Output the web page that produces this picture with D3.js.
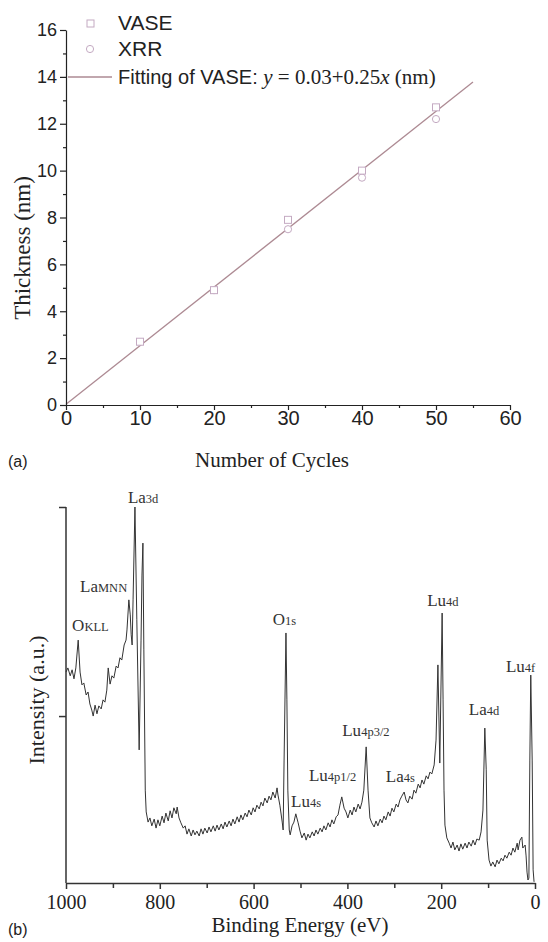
<!DOCTYPE html>
<html>
<head>
<meta charset="utf-8">
<script src="https://cdn.jsdelivr.net/npm/d3@7"></script>
<style>
  body { margin: 0; background: #fff; }
  svg { display: block; }
</style>
</head>
<body>
<div class="chart"></div>
<script>
// ---- panel (a): film thickness vs ALD cycles ----
const vaseCycles = [10, 20, 30, 40, 50];
const vaseThickness = [2.7, 4.9, 7.9, 10.0, 12.7];
const xrrCycles = [20, 30, 40, 50];
const xrrThickness = [4.9, 7.5, 9.7, 12.2];
const fitIntercept = 0.03;
const fitSlope = 0.25;
const fitRange = [0, 55];
const cycleTicks = [0, 10, 20, 30, 40, 50, 60];
const thicknessTicks = [0, 2, 4, 6, 8, 10, 12, 14, 16];

// ---- panel (b): XPS survey spectrum ----
const bindingEnergy = [
  1000, 996, 991, 987, 983, 979, 974, 970, 966, 962,
  957, 953, 949, 945, 942, 938, 934, 930, 925, 921,
  917, 913, 910, 906, 902, 898, 893, 889, 885, 881,
  876, 872, 870, 866, 863, 861, 859, 857, 853, 849,
  844, 840, 838, 836, 834, 831, 829, 825, 821, 817,
  812, 808, 804, 800, 795, 791, 787, 782, 778, 774,
  770, 765, 763, 759, 755, 750, 746, 742, 738, 733,
  729, 725, 721, 716, 712, 708, 704, 699, 695, 691,
  686, 682, 678, 674, 669, 665, 661, 657, 652, 648,
  644, 640, 635, 631, 627, 623, 618, 614, 610, 605,
  601, 597, 593, 588, 584, 580, 576, 571, 567, 563,
  559, 554, 550, 548, 544, 539, 537, 535, 531, 529,
  527, 524, 522, 518, 514, 510, 505, 501, 497, 492,
  488, 484, 480, 475, 471, 467, 463, 458, 454, 450,
  446, 441, 437, 433, 429, 424, 420, 416, 412, 407,
  403, 399, 394, 390, 386, 382, 377, 373, 369, 365,
  360, 356, 352, 348, 343, 339, 335, 330, 326, 322,
  318, 313, 309, 305, 301, 296, 292, 288, 284, 279,
  275, 271, 267, 262, 258, 254, 249, 245, 241, 237,
  232, 228, 224, 220, 215, 211, 207, 203, 198, 196,
  194, 192, 188, 183, 179, 175, 171, 166, 162, 158,
  154, 149, 145, 141, 136, 132, 128, 124, 119, 115,
  111, 107, 104, 102, 98, 94, 90, 85, 81, 77,
  72, 68, 64, 60, 55, 51, 47, 43, 38, 36,
  32, 28, 26, 21, 19, 17, 15, 13, 11, 9,
  6, 4, 2
];
const intensity = [
  56.1, 57.2, 55.1, 56.7, 54.3, 57.2, 64.6, 56.1, 52.7, 53.2,
  50.0, 50.8, 47.6, 46.0, 44.4, 47.3, 45.0, 47.1, 46.3, 48.7,
  48.1, 51.3, 57.2, 52.9, 55.1, 54.5, 57.7, 57.2, 59.9, 59.3,
  63.3, 64.6, 67.3, 75.3, 71.3, 66.0, 63.3, 75.3, 100, 70.0,
  35.4, 64.6, 81.9, 90.4, 62.0, 24.7, 18.9, 16.2, 17.3, 15.2,
  17.0, 14.6, 16.8, 15.2, 17.8, 16.0, 18.6, 16.5, 19.2, 17.3,
  20.0, 18.4, 20.2, 17.3, 16.0, 14.6, 15.2, 13.0, 14.4, 12.5,
  14.1, 12.8, 13.8, 12.5, 14.4, 13.0, 14.6, 13.3, 14.9, 13.6,
  15.2, 13.8, 15.4, 14.1, 15.7, 14.4, 16.2, 14.9, 16.5, 15.2,
  17.0, 15.7, 17.6, 16.2, 18.1, 16.8, 18.6, 17.6, 19.4, 18.1,
  20.0, 18.9, 20.7, 19.7, 21.5, 20.5, 22.6, 21.3, 23.1, 22.1,
  24.2, 22.6, 25.3, 23.4, 20.7, 16.2, 14.1, 32.7, 66.5, 48.7,
  24.7, 14.1, 12.8, 15.2, 16.2, 18.4, 16.0, 13.8, 12.0, 13.3,
  11.4, 13.0, 12.0, 13.6, 12.5, 14.1, 13.0, 14.6, 13.6, 15.2,
  14.1, 16.0, 14.9, 16.8, 15.7, 17.6, 18.1, 20.7, 22.9, 19.9,
  18.9, 17.3, 19.4, 18.1, 20.2, 18.9, 21.0, 19.7, 21.5, 24.7,
  36.2, 24.7, 17.3, 16.0, 14.9, 16.5, 15.2, 17.0, 16.0, 17.8,
  16.8, 18.9, 17.8, 19.9, 18.9, 21.0, 20.2, 22.1, 23.1, 24.2,
  22.1, 21.3, 23.1, 22.3, 24.7, 23.9, 26.3, 25.3, 27.4, 26.3,
  28.5, 27.7, 29.5, 29.0, 31.4, 38.0, 58.0, 31.9, 71.8, 48.7,
  24.7, 15.4, 12.0, 10.6, 9.3, 10.9, 8.8, 10.1, 8.5, 10.4,
  9.0, 10.6, 9.3, 10.9, 9.8, 11.4, 10.1, 11.7, 11.4, 13.6,
  19.4, 41.2, 30.1, 11.4, 6.1, 4.5, 5.6, 4.3, 6.1, 5.1,
  6.6, 5.9, 7.4, 6.6, 8.2, 7.4, 9.3, 8.2, 10.6, 8.8,
  11.4, 12.2, 9.3, 10.1, 7.2, 2.9, 0.8, 1.3, 32.7, 55.3,
  32.7, 3.5, 0.3
];
const energyTicks = [1000, 800, 600, 400, 200, 0];
const intensityTicks = [44.4, 100];

// peak annotations: element, orbital, anchor (energy, intensity) of the label
const peakElement = ["O", "La", "La", "O", "Lu", "Lu", "Lu", "La", "Lu", "La", "Lu"];
const peakOrbital = ["KLL", "MNN", "3d", "1s", "4s", "4p1/2", "4p3/2", "4s", "4d", "4d", "4f"];
const peakLabelEnergy = [987, 970, 868, 559, 520, 482, 411, 318, 230, 141, 62];
const peakLabelIntensity = [67.0, 77.4, 101.1, 68.6, 20.2, 27.1, 39.1, 26.9, 73.7, 44.7, 56.1];

const SERIF = "'Liberation Serif', 'Times New Roman', serif";
const SANS = "'Liberation Sans', Arial, sans-serif";

const W = 548, H = 942;
const svg = d3.select(".chart").append("svg").attr("width", W).attr("height", H);

// ================= panel (a) =================
const xA = d3.scaleLinear().domain([0, 60]).range([66, 510]);
const yA = d3.scaleLinear().domain([0, 16]).range([405, 30]);
const markColor = "#c4aac2";
const fitColor = "#ad8a93";

const gA = svg.append("g");

// fit line
gA.append("line")
  .attr("x1", xA(fitRange[0])).attr("y1", yA(fitIntercept + fitSlope * fitRange[0]))
  .attr("x2", xA(fitRange[1])).attr("y2", yA(fitIntercept + fitSlope * fitRange[1]))
  .attr("stroke", fitColor).attr("stroke-width", 1.3);

// markers
gA.selectAll(".xrr").data(xrrCycles).enter().append("circle")
  .attr("cx", d => xA(d)).attr("cy", (d, i) => yA(xrrThickness[i]))
  .attr("r", 3.6).attr("fill", "#fff").attr("stroke", markColor).attr("stroke-width", 1);
gA.selectAll(".vase").data(vaseCycles).enter().append("rect")
  .attr("x", d => xA(d) - 3.5).attr("y", (d, i) => yA(vaseThickness[i]) - 3.5)
  .attr("width", 7).attr("height", 7).attr("fill", "#fff")
  .attr("stroke", markColor).attr("stroke-width", 1);

// axes
const axA = gA.append("g").attr("transform", "translate(0,405)")
  .call(d3.axisBottom(xA).tickValues(cycleTicks).tickSize(5).tickSizeOuter(0).tickPadding(1));
gA.append("g").attr("transform", "translate(0,405)")
  .call(d3.axisBottom(xA).tickValues(d3.range(5, 60, 10)).tickSize(3).tickFormat(""))
  .select(".domain").remove();
const ayA = gA.append("g").attr("transform", "translate(66,0)")
  .call(d3.axisLeft(yA).tickValues(thicknessTicks).tickSize(6).tickSizeOuter(0).tickPadding(3));
gA.append("g").attr("transform", "translate(66,0)")
  .call(d3.axisLeft(yA).tickValues(d3.range(1, 16, 2)).tickSize(3).tickFormat(""))
  .select(".domain").remove();
gA.selectAll(".domain, .tick line").attr("stroke", "#222").attr("stroke-width", 1.2);
axA.selectAll("text").attr("font-family", SANS).attr("font-size", 20).attr("fill", "#222");
ayA.selectAll("text").attr("font-family", SANS).attr("font-size", 18).attr("fill", "#222");

gA.append("text").attr("font-family", SERIF).attr("x", 272).attr("y", 467)
  .attr("text-anchor", "middle").attr("font-size", 21).attr("fill", "#222").text("Number of Cycles");
gA.append("text").attr("font-family", SERIF)
  .attr("transform", "translate(30,248) rotate(-90)")
  .attr("text-anchor", "middle").attr("font-size", 23).attr("fill", "#222").text("Thickness (nm)");
gA.append("text").attr("font-family", SANS).attr("x", 8).attr("y", 467)
  .attr("font-size", 16).attr("fill", "#222").text("(a)");

// legend
const lg = gA.append("g");
lg.append("rect").attr("x", 87).attr("y", 20).attr("width", 7).attr("height", 7)
  .attr("fill", "#fff").attr("stroke", markColor);
lg.append("circle").attr("cx", 90).attr("cy", 49).attr("r", 3.6)
  .attr("fill", "#fff").attr("stroke", markColor);
lg.append("line").attr("x1", 68).attr("x2", 112).attr("y1", 77).attr("y2", 77)
  .attr("stroke", fitColor).attr("stroke-width", 1.3);
lg.append("text").attr("font-family", SANS).attr("x", 118).attr("y", 30)
  .attr("font-size", 21).attr("fill", "#222").text("VASE");
lg.append("text").attr("font-family", SANS).attr("x", 118).attr("y", 56)
  .attr("font-size", 21).attr("fill", "#222").text("XRR");
const fitText = lg.append("text").attr("x", 118).attr("y", 84).attr("fill", "#222");
fitText.append("tspan").attr("font-family", SANS).attr("font-size", 20).text("Fitting of VASE: ");
fitText.append("tspan").attr("font-family", SERIF).attr("font-size", 21).attr("font-style", "italic").text("y");
fitText.append("tspan").attr("font-family", SERIF).attr("font-size", 21)
  .text(` = ${fitIntercept}+${fitSlope}`);
fitText.append("tspan").attr("font-family", SERIF).attr("font-size", 21).attr("font-style", "italic").text("x");
fitText.append("tspan").attr("font-family", SERIF).attr("font-size", 21).text(" (nm)");

// ================= panel (b) =================
const xB = d3.scaleLinear().domain([1000, 0]).range([66, 535]);
const yB = d3.scaleLinear().domain([0, 100]).range([883, 507]);
const gB = svg.append("g");

const spectrum = d3.line()
  .x(d => xB(d[0]))
  .y(d => yB(d[1]));
gB.append("path")
  .datum(d3.zip(bindingEnergy, intensity))
  .attr("d", spectrum)
  .attr("fill", "none").attr("stroke", "#333").attr("stroke-width", 1)
  .attr("stroke-linejoin", "round");

const axB = gB.append("g").attr("transform", "translate(0,883)")
  .call(d3.axisBottom(xB).tickValues(energyTicks).tickFormat(d3.format("d"))
    .tickSize(6).tickSizeOuter(0).tickPadding(6));
gB.append("g").attr("transform", "translate(0,883)")
  .call(d3.axisBottom(xB).tickValues(d3.range(900, 0, -200)).tickSize(5).tickFormat(""))
  .select(".domain").remove();
gB.append("g").attr("transform", "translate(66,0)")
  .call(d3.axisLeft(yB).tickValues(intensityTicks).tickSize(7).tickSizeOuter(0).tickFormat(""))
  .select(".domain").attr("d", `M0,${yB(100)}V${yB(0)}`);
gB.selectAll(".domain, .tick line").attr("stroke", "#333").attr("stroke-width", 1.5);
axB.selectAll("text").attr("font-family", SERIF).attr("font-size", 20).attr("fill", "#222");

gB.append("text").attr("font-family", SERIF).attr("x", 300).attr("y", 932)
  .attr("text-anchor", "middle").attr("font-size", 21).attr("fill", "#222").text("Binding Energy (eV)");
gB.append("text").attr("font-family", SERIF)
  .attr("transform", "translate(44,700) rotate(-90)")
  .attr("text-anchor", "middle").attr("font-size", 22).attr("fill", "#222").text("Intensity (a.u.)");
gB.append("text").attr("font-family", SANS).attr("x", 8).attr("y", 935)
  .attr("font-size", 16).attr("fill", "#222").text("(b)");

// peak labels
peakElement.forEach((el, i) => {
  const t = gB.append("text").attr("font-family", SERIF)
    .attr("x", xB(peakLabelEnergy[i])).attr("y", yB(peakLabelIntensity[i]))
    .attr("fill", "#333");
  t.append("tspan").attr("font-size", 17).text(el);
  t.append("tspan").attr("font-size", 12.5).text(peakOrbital[i]);
});
</script>
</body>
</html>
